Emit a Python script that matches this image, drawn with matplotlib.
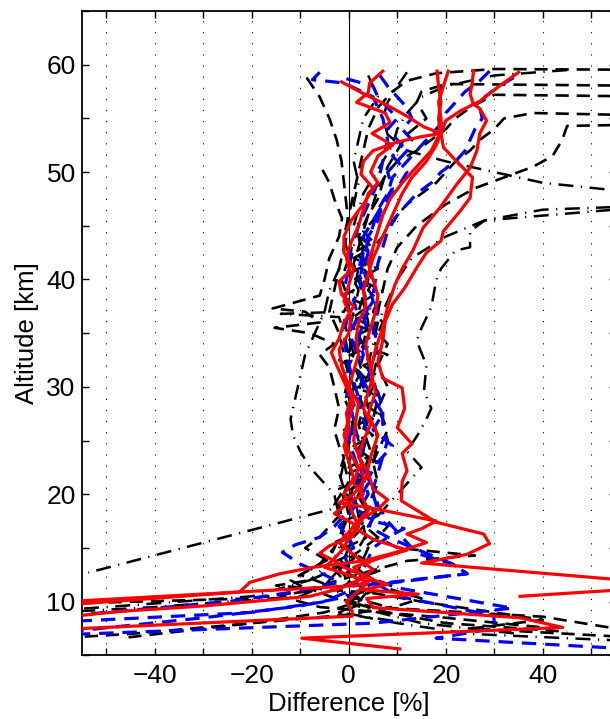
import numpy as np
import matplotlib.pyplot as plt

plt.rcParams['font.family'] = ['Liberation Sans', 'DejaVu Sans']

# --- red solid profiles (altitude km, difference %) ---
red1_alt = [59.3, 58.0, 56.6, 55.7, 54.8, 53.6, 52.3, 51.1, 49.5, 47.6, 46.4, 44.5, 43.6, 42.5, 41.1,
            39.2, 37.7, 36.1, 34.3, 32.4, 30.8, 29.9, 28.0, 26.2, 24.7, 23.8, 22.2, 21.2, 19.4,
            17.4, 16.3, 15.4, 14.4, 13.6, 11.5, 10.5]
red1_diff = [35, 31, 27, 23, 20, 19, 19.5, 22, 25.5, 25, 23, 19.5, 19, 16, 14,
             11.5, 9, 7.5, 7, 6, 7, 11, 11.5, 10, 13, 11, 12, 11, 10.8,
             18, 27.8, 29, 24.3, 15, 70, 35.3]

red2_alt = [59.4, 58.2, 57.3, 56.4, 55.9, 54.8, 53.6, 52.0, 50.4, 48.9, 46.7, 44.8, 42.7, 41.0, 39.5,
            37.5, 35.5, 33.5, 31.5, 29.5, 27.5, 25.5, 23.5, 21.5, 20.0, 19.2, 18.6, 17.5, 16.8,
            16.3, 15.5, 14.5, 13.8, 13.2, 12.6, 11.8, 10.9, 9.96]
red2_diff = [25.7, 25.4, 25, 25.6, 27, 28.4, 27, 26.4, 25, 22.3, 18.8, 15.3, 13.2, 11, 9.5,
             8, 7, 5.5, 4.5, 5.5, 4, 6, 4.5, 3.5, 1, -2, 6, 18, 15,
             12, 16, 9, 3, -7.4, -14.2, -20.4, -22.5, -60]

red3_alt = [59.4, 58.0, 56.5, 55.0, 53.6, 52.5, 51.0, 49.5, 48.0, 46.5, 45.0, 43.5, 42.0, 40.5, 39.0,
            37.5, 36.0, 34.5, 33.0, 31.5, 30.0, 28.5, 27.0, 25.5, 24.0, 22.5, 21.0, 20.0, 19.5,
            18.2, 17.0, 16.0, 15.2, 14.5, 13.8, 13.2, 12.1, 11.5, 10.9, 9.65]
red3_diff = [20.5, 19.5, 18.5, 19, 19, 18, 16, 13, 11, 9.5, 8, 6.5, 5, 4, 3,
             3.5, 2, 1.5, 2, 1, 0, 1, 0, -1, 0, 2, 1, 3, 1,
             -3, 2, 0.5, -4, -6, -3, -1, 5, 1.6, -22.5, -60]

red4_alt = [59.4, 58.0, 56.5, 55.0, 53.6, 52.0, 50.5, 49.0, 47.5, 46.0, 44.5, 43.0, 41.5, 40.0, 38.5,
            37.0, 35.5, 34.0, 32.5, 31.0, 29.5, 28.0, 26.5, 25.0, 23.5, 22.0, 20.5, 19.5, 18.6,
            17.8, 16.8, 15.8, 14.8, 14.0, 13.2, 12.3, 11.6, 11.1, 10.7, 10.3, 9.45, 8.5, 7.6, 6.6, 5.6]
red4_diff = [18.2, 18.5, 19, 18.5, 18.8, 17, 14, 11, 8.5, 7, 6, 5, 4, 5, 6,
             5.5, 4.5, 3.5, 4, 5, 4, 3, 4.5, 3, 2, 4, 5, 8, 6,
             3, 1.5, 5, 12, 6, 1, 3, 8, 3, 14.3, 3.7, 5, 35.3, 44.1, -9.7, 10.5]

red5_alt = [59.4, 58.3, 57.4, 56.5, 55.5, 54.6, 53.6, 52.5, 51.5, 50.0, 49.0, 48.0, 46.5, 45.0, 43.5,
            42.0, 40.8, 39.8, 38.6, 37.5, 36.0, 34.5, 33.2, 32.0, 30.5, 29.0, 27.5, 26.0, 24.5,
            23.0, 21.5, 20.0, 19.0, 18.0, 17.0, 16.0, 15.0, 14.0, 13.2, 12.5, 11.8, 11.0, 10.0,
            9.1, 8.65, 7.4]
red5_diff = [7, 4.3, 4, 1.6, 7.5, 8.5, 4.8, 9, 6, 4.5, 6, 4, 3, 2, 0.5,
             -0.5, 0.2, -2, -1.5, 1, -1, -2, -3.6, -2.5, -1, 0.5, -0.5, 0, -1,
             0, 1, -1, 0, 1, 2, 0, -1, -3, -5, 0, 4, 2, -0.5,
             0.7, 0.7, -60]

red6_alt = [58.4, 57.3, 56.2, 55.2, 54.2, 53.6, 53.3, 52.8, 52.0, 51.0, 49.8, 48.5, 47.0, 45.5, 44.0,
            42.5, 41.0, 39.5, 38.0, 36.5, 35.0, 33.5, 32.0, 30.0, 28.5, 27.0, 25.0, 23.0, 21.5,
            20.0, 18.5, 17.0, 15.5, 14.0, 13.0, 12.0, 11.2, 10.5, 9.6, 9.1, 8.5]
red6_diff = [-1.5, 3, 8, 12, 15.5, 19, 15, 10, 5, 3, 2.5, 5, 3, 0.5, -1,
             -1, 1, 0, -1, 0.5, 0, -2, -1.5, 0, 2, 1.5, 1, 2.5, 3,
             2.5, 4, 1, -2, 2, 5, 2, -2, -8, -30, -47, -60]

# --- blue dashed profiles ---
blue1_alt = [59.3, 58.6, 58.3, 57.0, 55.0, 53.0, 51.0, 49.0, 47.0, 45.0, 43.0, 41.0, 39.0, 37.0, 35.0,
             33.0, 31.0, 29.0, 27.0, 25.0, 23.0, 21.0, 19.0, 17.0, 16.0, 15.3, 14.6, 13.5, 12.5,
             11.8, 11.0, 10.0, 9.2, 8.6]
blue1_diff = [-6, -7.5, -1, 5, 7, 8, 7, 6, 4, 2, 0.5, 0, -1, 0, -1,
              -0.5, 0.5, -0.5, 1, 0, 1.5, 2, 1, -3, -6, -11, -13.7, -10, -5,
              -2, -10, -25, -45, -60]

blue2_alt = [58.7, 58.0, 57.0, 56.0, 55.0, 54.0, 52.5, 51.5, 50.0, 48.5, 47.0, 45.5, 44.0, 42.5, 41.0,
             39.5, 38.0, 36.5, 35.0, 33.5, 32.0, 30.5, 29.0, 27.5, 26.0, 24.5, 23.0, 21.5, 20.0,
             18.5, 17.5, 16.8, 16.0, 15.0, 14.0, 13.0, 12.0, 11.0, 10.0, 9.0, 8.1]
blue2_diff = [-0.5, 5, 6, 8, 10, 8, 11, 9, 12, 10, 7, 6, 4, 3, 2,
              2.5, 1, 2, 0, 1.5, 0, 1, 2, 0, 1, 3, 2, 3, 4,
              2, 5, 11.4, 8, 5, 4, 3, 2, 0, -5, -20, -60]

blue3_alt = [59.0, 58.0, 57.0, 56.0, 55.0, 54.0, 53.0, 52.0, 51.0, 50.0, 48.5, 47.0, 45.5, 44.0, 42.5,
             41.0, 39.5, 38.0, 36.5, 35.0, 33.5, 32.0, 30.5, 29.0, 27.5, 26.0, 24.5, 23.0, 21.5,
             20.0, 18.5, 17.0, 15.9, 13.5, 12.6, 11.6, 10.5, 9.6, 8.5, 7.1]
blue3_diff = [6.4, 8, 10, 12, 13, 11, 13, 12, 10, 8, 9, 7, 5, 3, 4,
              3, 4, 5, 3, 4, 3, 4.5, 3, 5, 7, 5, 9, 6, 4,
              5, 6, 4, 8.5, 21.4, 24.4, 4.4, 0, -10, -30, -60]

blue4_alt = [59.4, 58.5, 57.5, 56.5, 55.5, 54.5, 53.5, 52.5, 51.5, 50.5, 49.5, 48.0, 46.5, 45.0, 43.5,
             42.0, 40.5, 39.0, 37.5, 36.0, 34.5, 33.0, 31.5, 30.0, 28.5, 27.0, 25.5, 24.0, 22.5,
             21.0, 19.5, 18.0, 17.0, 16.0, 15.0, 14.6, 13.0, 11.3, 9.4, 8.0, 6.9]
blue4_diff = [29, 27, 24, 22, 20, 19, 17, 15, 13, 11, 9, 8, 6, 5, 4,
              3, 2.5, 3, 4, 3, 2, 3, 2, 3, 2, 3, 4, 2, 3,
              4, 2, 0, -2, 0, 1, -1, 0, 9.8, 33.7, 5, -60]

blue5_alt = [58.8, 58.0, 57.0, 56.0, 55.0, 54.0, 53.0, 52.0, 51.0, 50.0, 49.0, 48.0, 47.0, 46.0, 44.5,
             43.0, 41.5, 40.0, 38.5, 37.0, 35.5, 34.0, 32.5, 31.0, 29.5, 28.0, 26.5, 25.0, 23.5,
             22.0, 20.5, 19.0, 17.5, 16.5, 15.5, 14.5, 13.5, 12.6, 11.6, 10.5, 9.6, 8.7, 7.5, 6.6, 5.3]
blue5_diff = [34, 31, 28, 27, 27.5, 26, 25, 24, 22, 19, 17, 14, 12, 10, 8,
              7, 6, 5.5, 5, 6, 5, 6, 5, 4, 6, 7, 7, 8, 7,
              6, 5, 6, 8, 10, 12, 14, 21.4, 24.4, 6, 10, 20, 29.9, 30, 18, 70]

# --- black dashed profiles ---
kd1_alt = [59.5, 59.6, 59.2, 58.5, 57.5, 56.0, 54.0, 52.0, 50.0, 48.0, 46.0, 44.0, 42.0, 40.0, 38.0,
           36.0, 34.0, 32.0, 30.0, 28.0, 26.0, 24.0, 22.0, 20.0, 18.0, 16.0, 14.0, 13.0, 12.0,
           11.0, 10.3, 9.8]
kd1_diff = [70, 30, 18, 12, 9, 6, 4, 3, 2, 1, 0, -1, 0, -1.5, 0,
            -1, 0.5, -0.5, 1, 0, 1, -0.5, 0.5, -1, 0, -2, -4, -8, -12,
            -8, -20, -60]

kd2_alt = [58.0, 58.2, 57.5, 56.5, 55.0, 53.5, 52.0, 50.5, 49.0, 47.5, 46.0, 44.5, 43.0, 41.5, 40.0,
           38.5, 37.0, 35.5, 34.0, 32.5, 31.0, 29.5, 28.0, 26.5, 25.0, 23.5, 22.0, 20.5, 19.0,
           17.5, 16.0, 15.0, 14.3, 13.8, 12.8, 12.0, 11.2, 10.5, 9.5, 8.6, 7.5, 6.5]
kd2_diff = [70, 20, 15, 14, 16, 12, 10, 8, 7, 6, 4, 3, 2, 1, 2,
            3, 2, 1, 3, 2, 3, 2, 3, 2, 3, 1, 2, 1, 3,
            2, 6, 10, 26, 12, 4, -2, -8, -4, 5, 40, 55, 70]

kd3_alt = [57.0, 57.2, 56.0, 55.0, 54.0, 53.0, 52.0, 51.0, 50.0, 48.5, 47.0, 45.5, 44.0, 42.0, 40.0,
           38.0, 36.0, 34.0, 32.0, 30.0, 28.0, 26.0, 24.0, 22.0, 20.0, 18.0, 16.5, 15.0, 14.0,
           13.0, 12.0, 11.0, 10.0, 9.0, 8.0, 6.6]
kd3_diff = [70, 30, 25, 22, 20, 17, 14, 10, 8, 6, 5, 3.5, 2, 3, 4,
            3, 4, 3, 4.5, 3, 4, 3, 4.5, 3, 2, 5, 4, 2, 1,
            -2, 0, 4, 2, -5, -20, -47]

kd4_alt = [55.2, 55.5, 55.0, 54.0, 53.0, 52.0, 51.0, 50.0, 49.0, 48.0, 47.0, 46.0, 45.0, 44.0, 43.0,
           42.0, 41.0, 40.0, 39.0, 38.0, 37.0, 36.0, 35.0, 34.0, 33.0, 32.0, 31.0, 30.0, 29.0,
           28.0, 27.0, 26.0, 25.0, 24.0, 23.0, 22.0, 21.0, 20.0, 19.0, 18.0, 17.0, 16.0, 15.0,
           14.0, 13.0, 12.0, 11.5, 10.8, 10.0, 9.0, 8.3, 7.5, 6.4]
kd4_diff = [70, 38, 32, 30, 27, 25, 22, 20, 18, 15, 12, 10, 8, 7, 5,
            4.5, 3, 5, 4, 6, 5, 7, 6, 8, 7, 6, 7, 8, 7,
            6, 7, 8, 7, 6, 5, 4, 3, 2, 4, 6, 8, 6, 3,
            0, -3, -8, -15, 5, 15, 30, 40, 25, 70]

kd5_alt = [50.2, 49.0, 47.5, 45.7, 44.0, 42.0, 40.0, 38.5, 37.3, 37.0, 36.0, 35.5, 35.0, 34.0, 33.0,
           31.8, 30.0, 28.0, 26.0, 24.5, 23.4, 22.0, 20.5, 19.0, 18.0, 17.0, 16.0, 15.0, 14.0,
           13.0, 12.0, 11.0, 10.0, 9.0, 8.0, 7.2]
kd5_diff = [-5.4, -4, -3, -1.4, -2, -4, -5, -6, -15.7, -9, -6, -15.3, -8, -3, -6,
            -4, -3, -2, -3, -2, -1, -2, -1, -3, -2, -4, -6, -9, -5,
            -3, -1, 5, 0, 8, 20, 45]

kd6_alt = [54.5, 54.3, 53.0, 51.5, 50.5, 49.5, 48.5, 47.0, 45.0, 43.0, 41.0, 39.0, 37.0, 35.0, 33.0,
           31.0, 29.0, 27.0, 25.0, 23.0, 21.0, 19.0, 17.0, 15.0, 13.0, 11.5, 10.3, 9.6, 8.8,
           8.0, 7.0, 6.6]
kd6_diff = [70, 45, 44, 42, 38, 32, 26, 20, 14, 10, 8, 7, 6, 5, 6,
            5, 6, 5, 6, 5, 6, 4, 3, 4, 2, 6, 15, 10, 0,
            -20, -45, -60]

kd7_alt = [58.8, 57.0, 55.0, 53.0, 51.0, 49.0, 47.0, 44.8, 43.0, 41.0, 39.0, 37.0, 35.0, 33.0, 31.0,
           29.0, 27.0, 25.0, 23.0, 21.0, 19.0, 17.0, 15.0, 13.5, 12.5, 11.5, 10.5, 9.5, 8.5, 7.6]
kd7_diff = [-8.7, -6, -4, -2.5, -1.5, -1, -0.5, 0, -1, -2, -3, -4, -2, -1, 0,
            -1, 1, 0, -1, 0, -2, -1, -3, -6, -10, -4, -14, -6, 20, 40]

kd8_alt = [46.0, 44.5, 43.5, 42.5, 41.5, 40.5, 39.5, 38.5, 37.5, 36.5, 35.5, 34.5, 33.5, 32.5, 31.5,
           30.5, 29.5, 28.5, 27.5, 26.5, 25.5, 24.5, 23.5, 22.5, 21.5, 20.5, 19.5, 18.5, 17.5,
           16.5, 15.5, 14.5, 13.5, 12.5, 11.5, 10.5, 9.5]
kd8_diff = [6, 3, 5, 1, 4, 0, 3, -1, 4, 1, 5, 0, 3, -2, 2,
            4, 0, 3, 6, 2, 5, 1, 4, 0, 3, -2, 1, 4, -1,
            2, -3, 1, -4, 3, 6, 0, 8]

# --- black dash-dot profiles ---
dd1_alt = [59.3, 58.0, 56.5, 55.0, 53.5, 52.0, 51.0, 50.0, 49.0, 48.3, 47.8, 46.7, 45.5, 44.0, 42.0,
           40.0, 38.0, 36.0, 34.0, 32.0, 30.0, 28.0, 26.0, 24.0, 22.0, 20.0, 18.0, 16.0, 14.0,
           12.5, 11.0, 10.0, 9.0, 8.0, 7.0]
dd1_diff = [12, 10, 8, 7, 8, 12, 20, 30, 40, 55, 70, 60, 28, 20, 13,
            10, 8, 6, 5, 4, 5, 3, 4, 3, 2, 1, 2, 0, -2,
            1, 3, -1, 6, 15, 35]

dd2_alt = [59.0, 57.0, 55.0, 53.0, 51.0, 49.0, 47.0, 45.0, 43.0, 41.0, 39.0, 37.0, 35.0, 33.0, 31.0,
           29.0, 27.0, 25.0, 23.0, 21.0, 19.5, 18.6, 12.7]
dd2_diff = [4, 6, 3, 2, 1, 2, 1, 2, 1, 0, 2, 1, 0, 1, -1,
            0, 1, 0, -1, -2, -1, -3.7, -53.7]

dd3_alt = [59.5, 59.0, 58.0, 57.0, 55.5, 54.0, 52.5, 51.0, 49.5, 48.0, 46.5, 45.0, 43.0, 41.0, 39.0,
           37.0, 36.8, 36.5, 35.0, 33.0, 31.0, 29.0, 27.0, 25.0, 23.0, 21.0, 19.0, 17.0, 15.0,
           13.0, 11.5, 10.5, 9.5, 9.0]
dd3_diff = [45, 30, 20, 15, 12, 10, 9, 7, 5, 3, 2, 1, 3, 2, 1,
            -1, -14, -2, -1, 0, 2, 0, 1, 2, 0, 1, 0, 2, 0,
            -2, -5, -10, -40, -60]

dd4_alt = [41.1, 40.0, 39.0, 37.0, 35.0, 33.0, 31.0, 29.0, 27.0, 25.5, 24.0, 22.5, 21.0, 20.0, 18.0,
           16.0, 14.0, 12.0, 10.5, 9.5, 9.2]
dd4_diff = [-1.9, -3, -4, -5, -7, -9, -10, -11, -12, -11.5, -10, -8, -5, -3, -2,
            -1, -3, -8, -20, -50, -60]

dd5_alt = [47.0, 46.5, 45.5, 44.5, 43.0, 42.7, 41.0, 39.9, 37.4, 35.5, 34.3, 32.0, 29.6, 28.0, 27.0,
           25.6, 24.0, 22.5, 21.0, 20.0, 19.0, 18.0, 17.0, 16.0, 15.0, 14.0, 13.0, 12.0, 11.0,
           10.0, 9.0, 8.0, 7.0, 6.1]
dd5_diff = [70, 40, 28, 25, 25, 22, 19, 18, 17, 15, 14, 16, 15.5, 17, 16,
            14.3, 12, 15, 12, 10, 8, 6, 3, 1, -1, -3, -1, 2, 0,
            3, -2, 10, 25, 70]

dd6_alt = [44.0, 43.0, 42.0, 41.0, 40.0, 39.0, 38.0, 37.0, 36.0, 35.0, 34.0, 33.0, 32.0, 31.0, 30.0,
           29.0, 28.0, 27.0, 26.0, 25.0, 24.0, 23.0, 22.0, 21.0, 20.0, 19.0, 18.0, 17.0, 16.0,
           15.0, 14.0, 13.0, 12.0, 11.0, 10.0, 9.0, 8.0]
dd6_diff = [2, 5, 1, 6, 2, 7, 3, 5, 0, 6, 2, 8, 3, 6, 1,
            7, 2, 5, -1, 4, 1, 6, 0, 3, -2, 2, 6, 1, 4,
            -1, 3, 7, 1, -3, 4, -2, 12]

red_profiles = [(red1_alt, red1_diff), (red2_alt, red2_diff), (red3_alt, red3_diff),
                (red4_alt, red4_diff), (red5_alt, red5_diff), (red6_alt, red6_diff)]
blue_profiles = [(blue1_alt, blue1_diff), (blue2_alt, blue2_diff), (blue3_alt, blue3_diff),
                 (blue4_alt, blue4_diff), (blue5_alt, blue5_diff)]
dashed_profiles = [(kd1_alt, kd1_diff), (kd2_alt, kd2_diff), (kd3_alt, kd3_diff),
                   (kd4_alt, kd4_diff), (kd5_alt, kd5_diff), (kd6_alt, kd6_diff),
                   (kd7_alt, kd7_diff), (kd8_alt, kd8_diff)]
dashdot_profiles = [(dd1_alt, dd1_diff), (dd2_alt, dd2_diff), (dd3_alt, dd3_diff),
                    (dd4_alt, dd4_diff), (dd5_alt, dd5_diff), (dd6_alt, dd6_diff)]

x_ticks = np.arange(-50, 51, 10)
y_ticks = np.arange(5, 66, 5)

fig = plt.figure(figsize=(6.10, 7.19), dpi=100)
# axes run past the right edge of the figure, as in the cropped original
ax = fig.add_axes([0.1344, 0.0885, 0.8748, 0.8962])

ax.axvline(0, color='black', lw=0.8, zorder=1)

for alt, diff in dashdot_profiles:
    ax.plot(diff, alt, color='black', lw=1.8, linestyle=(0, (6, 3, 0.5, 3)), zorder=2)
for alt, diff in dashed_profiles:
    ax.plot(diff, alt, color='black', lw=1.9, linestyle=(0, (5, 3)), zorder=2)
for alt, diff in blue_profiles:
    ax.plot(diff, alt, color='#0000ff', lw=2.3, linestyle=(0, (4.5, 2.8)), zorder=3)
for alt, diff in red_profiles:
    ax.plot(diff, alt, color='#ff0000', lw=2.3, linestyle='-', zorder=4)

ax.set_xlim(-55, 55)
ax.set_ylim(5, 65)
ax.set_xticks(x_ticks)
ax.set_xticklabels([('\u2212%d' % -v if v < 0 else '%d' % v) if v % 20 == 0 else '' for v in x_ticks])
ax.set_yticks(y_ticks)
ax.set_yticklabels(['%d' % v if v % 10 == 0 else '' for v in y_ticks])
ax.tick_params(direction='in', top=True, right=True, length=5, width=1.0, labelsize=19)
ax.tick_params(axis='x', pad=6)
ax.tick_params(axis='y', pad=4.5)
ax.xaxis.grid(True, linestyle=(0, (1, 9)), color='black', lw=0.8)
for s in ax.spines.values():
    s.set_linewidth(1.3)

ax.set_xlabel('Difference [%]', fontsize=18.5, labelpad=3)
ax.set_ylabel('Altitude [km]', fontsize=18.5, labelpad=5)

fig.savefig('out.png', dpi=100)
